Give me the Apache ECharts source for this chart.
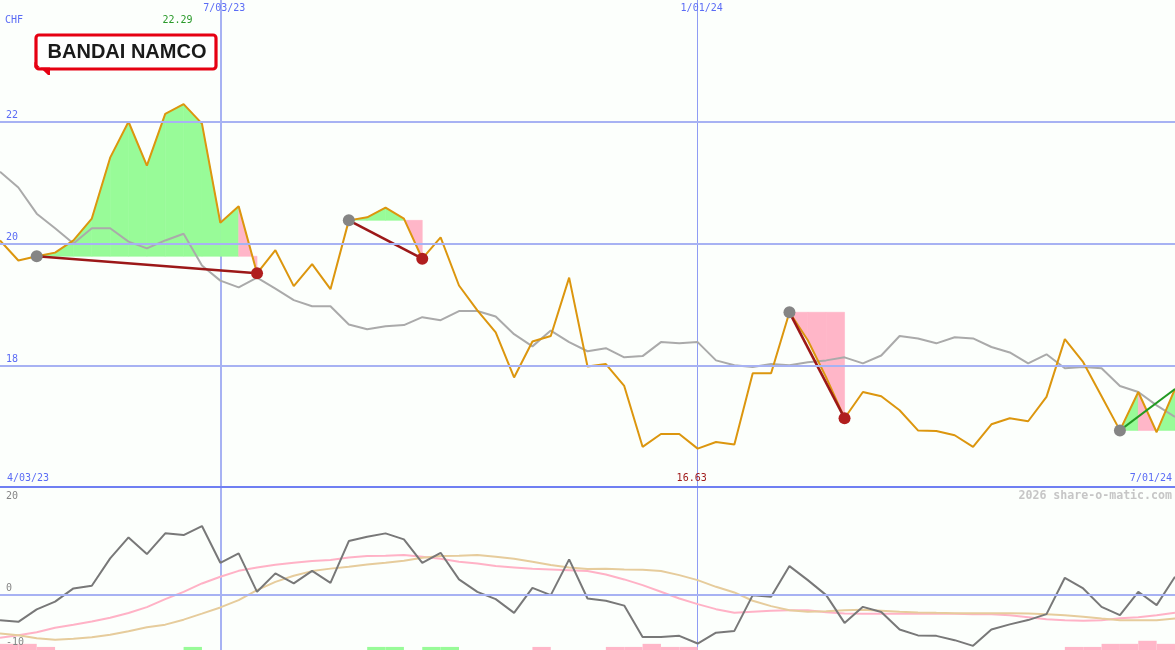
<!DOCTYPE html>
<html><head><meta charset="utf-8">
<script src="https://cdn.jsdelivr.net/npm/echarts@6/dist/echarts.min.js"></script>
<style>html,body{margin:0;padding:0;background:#fcfffc}#c{width:1175px;height:650px}</style>
</head><body><div id="c"></div>
<script>
// ---- data (weekly points) ----
const tickIndex = [0, 12, 38, 64];
const tickText = ['4/03/23', '7/03/23', '1/01/24', '7/01/24'];
const currency = 'CHF';
const watermark = '2026 share-o-matic.com';
const logoText = 'BANDAI NAMCO';

const price = [
  20.05, 19.72, 19.79, 19.85, 20.05, 20.41, 21.41, 22.00, 21.28, 22.13,
  22.29, 21.97, 20.34, 20.61, 19.51, 19.89, 19.30, 19.66, 19.25, 20.38,
  20.43, 20.59, 20.41, 19.75, 20.10, 19.31, 18.90, 18.54, 17.80, 18.39,
  18.48, 19.44, 17.98, 18.02, 17.66, 16.66, 16.87, 16.87, 16.63, 16.74,
  16.70, 17.87, 17.87, 18.87, 18.41, 17.80, 17.13, 17.56, 17.49, 17.26,
  16.93, 16.92, 16.85, 16.66, 17.03, 17.13, 17.08, 17.48, 18.43, 18.05,
  17.49, 16.93, 17.56, 16.90, 17.61
];
const priceAvg = [
  21.18, 20.92, 20.49, 20.25, 20.00, 20.25, 20.25, 20.03, 19.92, 20.05,
  20.16, 19.64, 19.39, 19.28, 19.44, 19.26, 19.07, 18.97, 18.97, 18.67,
  18.59, 18.64, 18.66, 18.79, 18.74, 18.89, 18.89, 18.80, 18.51, 18.31,
  18.57, 18.38, 18.23, 18.28, 18.13, 18.15, 18.38, 18.36, 18.38, 18.08,
  18.00, 17.97, 18.02, 18.00, 18.05, 18.08, 18.13, 18.03, 18.16, 18.48,
  18.44, 18.36, 18.46, 18.44, 18.30, 18.21, 18.03, 18.18, 17.95, 17.97,
  17.95, 17.66, 17.56, 17.34, 17.15
];
const momentum = [
  -4.81, -5.13, -2.80, -1.35, 1.10, 1.59, 6.70, 10.61, 7.50, 11.36,
  11.04, 12.72, 5.88, 7.63, 0.47, 3.90, 2.03, 4.38, 2.15, 9.93,
  10.73, 11.36, 10.24, 5.88, 7.74, 2.78, 0.47, -0.90, -3.45, 1.21,
  -0.15, 6.51, -0.77, -1.20, -2.10, -7.93, -7.93, -7.74, -9.17, -7.15,
  -6.81, -0.15, -0.47, 5.26, 2.65, -0.15, -5.32, -2.33, -3.30, -6.55,
  -7.65, -7.74, -8.54, -9.60, -6.55, -5.60, -4.80, -3.69, 3.08, 1.10,
  -2.33, -3.88, 0.47, -2.01, 3.27
];
const momentumFast = [
  -8.08, -7.61, -7.05, -6.21, -5.65, -5.07, -4.35, -3.49, -2.39, -0.90,
  0.47, 2.03, 3.27, 4.38, 5.01, 5.51, 5.88, 6.19, 6.38, 6.88,
  7.13, 7.18, 7.31, 7.00, 6.62, 6.06, 5.76, 5.26, 5.01, 4.76,
  4.64, 4.51, 4.33, 3.71, 2.78, 1.72, 0.47, -0.77, -1.83, -2.76,
  -3.45, -3.23, -3.04, -2.95, -2.95, -3.32, -3.56, -3.60, -3.60, -3.60,
  -3.60, -3.60, -3.60, -3.69, -3.69, -3.88, -4.25, -4.63, -4.81, -4.94,
  -4.81, -4.44, -4.25, -3.88, -3.41
];
const momentumSlow = [
  -7.29, -7.61, -8.17, -8.45, -8.26, -7.99, -7.52, -6.87, -6.12, -5.65,
  -4.72, -3.60, -2.44, -1.08, 0.80, 2.33, 3.47, 4.33, 4.79, 5.13,
  5.57, 5.88, 6.25, 6.81, 7.13, 7.18, 7.31, 7.00, 6.62, 6.06,
  5.45, 5.01, 4.70, 4.76, 4.64, 4.57, 4.33, 3.58, 2.65, 1.40,
  0.35, -1.20, -2.20, -2.95, -3.23, -3.13, -2.95, -2.85, -3.04, -3.26,
  -3.38, -3.45, -3.51, -3.51, -3.51, -3.51, -3.56, -3.69, -3.88, -4.16,
  -4.50, -4.81, -4.81, -4.81, -4.50
];
// signal strip: negative = pink, positive = green
const signalBars = [
  -2, -2, -1, 0, 0, 0, 0, 0, 0, 0,
  1, 0, 0, 0, 0, 0, 0, 0, 0, 0,
  1, 1, 0, 1, 1, 0, 0, 0, 0, -1,
  0, 0, 0, -1, -1, -2, -1, -1, 0, 0,
  0, 0, 0, 0, 0, 0, 0, 0, 0, 0,
  0, 0, 0, 0, 0, 0, 0, 0, -1, -1,
  -2, -2, -3, -2, 0
];
// trend zones (start index, end index)
const zoneStart = [2, 19, 43, 61];
const zoneEnd = [14, 23, 46, 64];

// ---- styling ----
const MONO = '"DejaVu Sans Mono", monospace';
const T = 'rgba(0,0,0,0)';
const GRID_BLUE = '#a7b2f3';
const THIN_BLUE = '#8e9cf4';
const SEP_BLUE = '#6f7ff2';
const LABEL_BLUE = '#5b6cf5';
const FILL_GREEN = '#98fb98';
const FILL_PINK = '#ffb6c8';
const ORANGE = '#dc960e';
const N = price.length;

function lineColors(min, max, step, keep, color) {
  const arr = [];
  for (let v = min; v <= max + 1e-9; v += step) {
    arr.push(keep.indexOf(Math.round(v * 100) / 100) >= 0 ? color : T);
  }
  return arr;
}
function labelFor(v, allowed) {
  const k = tickIndex.indexOf(v);
  return (k >= 0 && allowed.indexOf(v) >= 0) ? tickText[k] : '';
}

const fillData = [];
zoneStart.forEach((s, k) => {
  for (let i = s; i < zoneEnd[k]; i++) fillData.push([i, price[i], price[i + 1], price[s]]);
});
const trendData = zoneStart.map((s, k) => [s, price[s], zoneEnd[k], price[zoneEnd[k]]]);
const startDots = zoneStart.map(s => [s, price[s]]);
const endDots = [];
zoneStart.forEach((s, k) => { const e = zoneEnd[k]; if (price[e] < price[s]) endDots.push([e, price[e]]); });
const idx = arr => arr.map((v, i) => [i, v]);

const chart = echarts.init(document.getElementById('c'), null, {renderer: 'canvas'});
const hiddenX = (gi) => ({gridIndex: gi, type: 'value', min: 0, max: N - 1, show: false});
const gridBase = {left: 0, right: 0, containLabel: false, outerBoundsMode: 'none'};

chart.setOption({
  animation: false,
  backgroundColor: '#fcfffc',
  grid: [
    Object.assign({top: 0, height: 487}, gridBase),
    Object.assign({top: 487, height: 161}, gridBase),
    Object.assign({top: 487, height: 163}, gridBase)
  ],
  xAxis: [
    {gridIndex: 0, type: 'value', min: 0, max: N - 1, interval: 2, position: 'top',
     axisLine: {show: false}, axisTick: {show: false},
     splitLine: {show: true, lineStyle: {width: 2, color: lineColors(0, N - 1, 2, [12], GRID_BLUE)}},
     axisLabel: {inside: true, margin: 3, color: LABEL_BLUE, fontFamily: MONO, fontSize: 10,
       padding: [0, 0, 0, 8], formatter: v => labelFor(v, [12, 38])}},
    {gridIndex: 0, type: 'value', min: 0, max: N - 1, interval: 2, position: 'bottom',
     axisLine: {show: true, onZero: false, lineStyle: {color: SEP_BLUE, width: 2}}, axisTick: {show: false},
     splitLine: {show: true, lineStyle: {width: 1, color: lineColors(0, N - 1, 2, [38], THIN_BLUE)}},
     axisLabel: {inside: true, margin: 4, color: LABEL_BLUE, fontFamily: MONO, fontSize: 10,
       alignMinLabel: 'left', alignMaxLabel: 'right', padding: [0, 3, 0, 7],
       formatter: v => labelFor(v, [0, 64])}},
    hiddenX(1),
    {gridIndex: 2, type: 'value', min: 0, max: N - 1, interval: 2,
     axisLine: {show: false}, axisTick: {show: false}, axisLabel: {show: false},
     splitLine: {show: true, lineStyle: {width: 2, color: lineColors(0, N - 1, 2, [12], GRID_BLUE)}}},
    {gridIndex: 2, type: 'value', min: 0, max: N - 1, interval: 2,
     axisLine: {show: false}, axisTick: {show: false}, axisLabel: {show: false},
     splitLine: {show: true, lineStyle: {width: 1, color: lineColors(0, N - 1, 2, [38], THIN_BLUE)}}}
  ],
  yAxis: [
    {gridIndex: 0, type: 'value', min: 16, max: 24, interval: 2, z: 10, position: 'left',
     axisLine: {show: false}, axisTick: {show: false},
     splitLine: {show: true, lineStyle: {width: 2, color: lineColors(16, 24, 2, [18, 20, 22], GRID_BLUE)}},
     axisLabel: {inside: true, margin: 6, color: LABEL_BLUE, fontFamily: MONO, fontSize: 10,
       verticalAlign: 'bottom', padding: [0, 0, 1, 0],
       formatter: v => (v === 18 || v === 20 || v === 22) ? String(v) : ''}},
    {gridIndex: 1, type: 'value', min: -10, max: 20, interval: 10, z: 10, position: 'left',
     axisLine: {show: false}, axisTick: {show: false},
     splitLine: {show: true, lineStyle: {width: 2, color: lineColors(-10, 20, 10, [0], GRID_BLUE)}},
     axisLabel: {inside: true, margin: 6, color: '#858585', fontFamily: MONO, fontSize: 10,
       verticalAlign: 'bottom', padding: [0, 0, 1, 0],
       formatter: v => (v === 0 || v === -10) ? String(v) : ''}},
    {gridIndex: 1, type: 'value', min: -10, max: 20, interval: 10, z: 10, position: 'left', offset: 0,
     axisLine: {show: false}, axisTick: {show: false}, splitLine: {show: false},
     axisLabel: {inside: true, margin: 6, color: '#858585', fontFamily: MONO, fontSize: 10,
       verticalAlign: 'top', padding: [4, 0, 0, 0],
       formatter: v => v === 20 ? String(v) : ''}},
    {gridIndex: 2, type: 'value', min: 0, max: 53, show: false}
  ],
  series: [
    {type: 'custom', name: 'zones', xAxisIndex: 0, yAxisIndex: 0, z: 2, silent: true,
     data: fillData, encode: {x: 0, y: [1, 2, 3]},
     renderItem: (params, api) => {
       const i = api.value(0), a = api.value(1), b = api.value(2), base = api.value(3);
       const c = b >= base ? FILL_GREEN : FILL_PINK;
       return {type: 'polygon',
         shape: {points: [api.coord([i, a]), api.coord([i + 1, b]), api.coord([i + 1, base]), api.coord([i, base])]},
         style: {fill: c, stroke: c, lineWidth: 0.6}};
     }},
    {type: 'line', name: 'avg', xAxisIndex: 0, yAxisIndex: 0, z: 3, data: idx(priceAvg),
     symbol: 'none', lineStyle: {color: '#aaaaaa', width: 2}},
    {type: 'line', name: 'price', xAxisIndex: 0, yAxisIndex: 0, z: 4, data: idx(price),
     symbol: 'none', lineStyle: {color: ORANGE, width: 2}},
    {type: 'custom', name: 'trend', xAxisIndex: 0, yAxisIndex: 0, z: 5, silent: true,
     data: trendData, encode: {x: [0, 2], y: [1, 3]},
     renderItem: (params, api) => {
       const p1 = api.coord([api.value(0), api.value(1)]);
       const p2 = api.coord([api.value(2), api.value(3)]);
       const down = api.value(3) < api.value(1);
       return {type: 'line', shape: {x1: p1[0], y1: p1[1], x2: p2[0], y2: p2[1]},
         style: {stroke: down ? '#9c1818' : '#229a22', lineWidth: down ? 2.6 : 2}};
     }},
    {type: 'scatter', name: 'start', xAxisIndex: 0, yAxisIndex: 0, z: 6, data: startDots,
     symbol: 'circle', symbolSize: 12, itemStyle: {color: '#858585', opacity: 1}},
    {type: 'scatter', name: 'end', xAxisIndex: 0, yAxisIndex: 0, z: 6, data: endDots,
     symbol: 'circle', symbolSize: 12, itemStyle: {color: '#b01e1e', opacity: 1}},
    {type: 'custom', name: 'signal', xAxisIndex: 3, yAxisIndex: 3, z: 1, silent: true,
     data: signalBars.map((v, i) => [i, v]).filter(d => d[1] !== 0), encode: {x: 0, y: 1},
     renderItem: (params, api) => {
       const i = api.value(0), v = api.value(1);
       const p0 = api.coord([i, Math.abs(v)]), p1 = api.coord([i + 1, 0]);
       return {type: 'rect', shape: {x: p0[0], y: p0[1], width: p1[0] - p0[0], height: p1[1] - p0[1]},
         style: {fill: v < 0 ? FILL_PINK : FILL_GREEN}};
     }},
    {type: 'line', name: 'fast', xAxisIndex: 2, yAxisIndex: 1, z: 3, data: idx(momentumFast),
     symbol: 'none', lineStyle: {color: '#ffb2c6', width: 2}},
    {type: 'line', name: 'slow', xAxisIndex: 2, yAxisIndex: 1, z: 3, data: idx(momentumSlow),
     symbol: 'none', lineStyle: {color: '#e6cc9c', width: 2}},
    {type: 'line', name: 'momentum', xAxisIndex: 2, yAxisIndex: 1, z: 4, data: idx(momentum),
     symbol: 'none', lineStyle: {color: '#787878', width: 2}}
  ]
});

// labels positioned through the chart's own scales
let maxI = 0, minI = 0;
price.forEach((v, i) => { if (v > price[maxI]) maxI = i; if (v < price[minI]) minI = i; });
const xMax = chart.convertToPixel({xAxisIndex: 0}, maxI);
const xMin = chart.convertToPixel({xAxisIndex: 0}, minI);
const yTop = chart.convertToPixel({yAxisIndex: 0}, 24);
const yBot = chart.convertToPixel({yAxisIndex: 0}, 16);

chart.setOption({
  graphic: [
    {type: 'text', x: 5, y: yTop + 20, z: 20,
     style: {text: currency, fill: LABEL_BLUE, font: '10px ' + MONO, verticalAlign: 'middle'}},
    {type: 'text', x: xMax - 6, y: yTop + 20, z: 20,
     style: {text: price[maxI].toFixed(2), fill: '#2a9a2a', font: '10px ' + MONO, align: 'center', verticalAlign: 'middle'}},
    {type: 'text', x: xMin - 6, y: yBot - 9, z: 20,
     style: {text: price[minI].toFixed(2), fill: '#a01c1c', font: '10px ' + MONO, align: 'center', verticalAlign: 'middle'}},
    {type: 'text', x: 1172, y: yBot + 9, z: 20,
     style: {text: watermark, fill: '#c6c6c6', font: 'bold 11.6px ' + MONO, align: 'right', verticalAlign: 'middle'}},
    {type: 'group', x: 36, y: 35, z: 30, children: [
      {type: 'rect', shape: {x: 0, y: 0, width: 180, height: 34, r: 3},
       style: {fill: '#ffffff', stroke: '#e60012', lineWidth: 3.2}},
      {type: 'polygon', shape: {points: [[-1.6, 27], [12, 40], [14, 40], [14, 32.4], [-1.6, 32.4]]},
       style: {fill: '#e60012'}},
      {type: 'text', x: 91, y: 17.5,
       style: {text: logoText, fill: '#1a1a1a', font: 'bold 20px "Liberation Sans", Arial, sans-serif',
         align: 'center', verticalAlign: 'middle'}}
    ]}
  ]
});
</script>
</body></html>
